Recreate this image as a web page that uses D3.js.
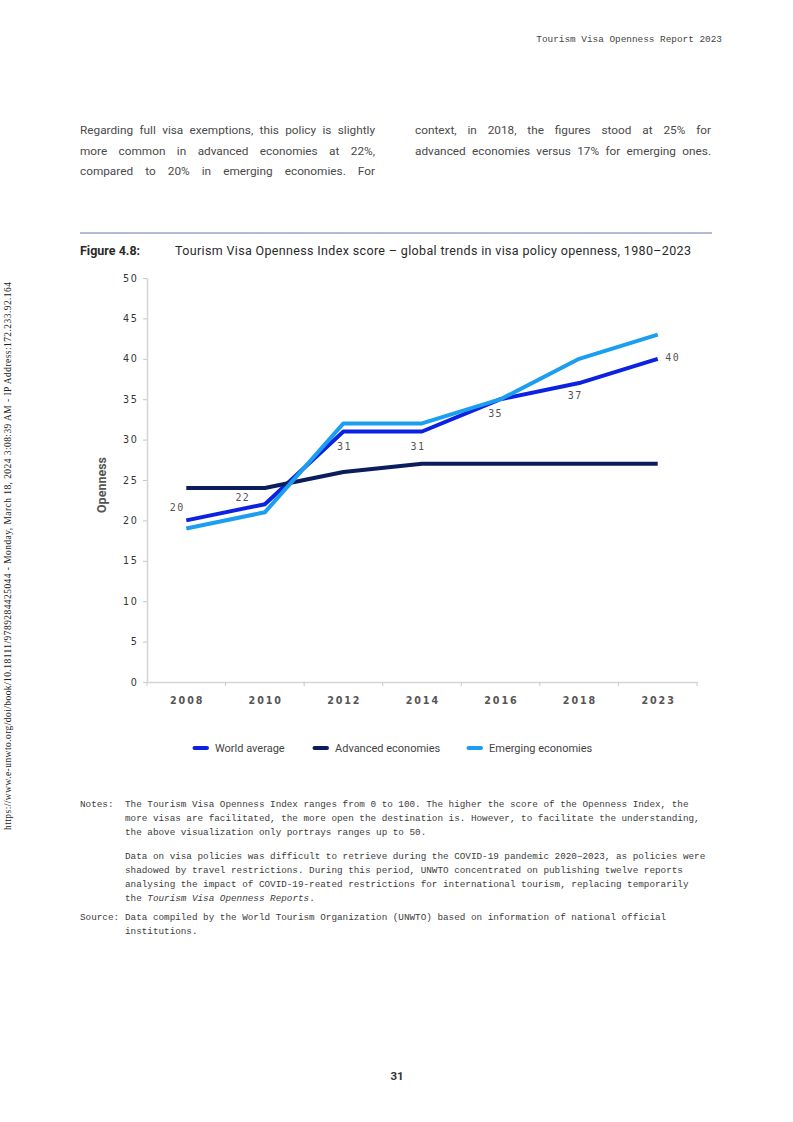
<!DOCTYPE html>
<html>
<head>
<meta charset="utf-8">
<script src="https://cdn.jsdelivr.net/npm/d3@7"></script>
<style>
  html, body { margin: 0; padding: 0; background: #fff; }
  #page { width: 793px; height: 1122px; }
</style>
</head>
<body>
<div id="page"></div>
<script>
// ---- data ----
const years = ['2008', '2010', '2012', '2014', '2016', '2018', '2023'];
const worldAverage = [20, 22, 31, 31, 35, 37, 40];
const advancedEconomies = [24, 24, 26, 27, 27, 27, 27];
const emergingEconomies = [19, 21, 32, 32, 35, 40, 43];
const yTicks = [0, 5, 10, 15, 20, 25, 30, 35, 40, 45, 50];
const seriesNames = ['World average', 'Advanced economies', 'Emerging economies'];

const colorRule = {
  'World average': '#0b22e2',
  'Advanced economies': '#0b1d5c',
  'Emerging economies': '#1c9ef0',
};

// page texts
const headerText = 'Tourism Visa Openness Report 2023';
const paraLeft = [
  'Regarding full visa exemptions, this policy is slightly',
  'more common in advanced economies at 22%,',
  'compared to 20% in emerging economies. For',
];
const paraRight = [
  'context, in 2018, the figures stood at 25% for',
  'advanced economies versus 17% for emerging ones.',
];
const figLabel = 'Figure 4.8:';
const figTitle = 'Tourism Visa Openness Index score \u2013 global trends in visa policy openness, 1980\u20132023';
const yLabel = 'Openness';
const notesLines = [
  ['Notes:', 'The Tourism Visa Openness Index ranges from 0 to 100. The higher the score of the Openness Index, the'],
  ['', 'more visas are facilitated, the more open the destination is. However, to facilitate the understanding,'],
  ['', 'the above visualization only portrays ranges up to 50.'],
];
const notesLines2 = [
  'Data on visa policies was difficult to retrieve during the COVID-19 pandemic 2020\u20132023, as policies were',
  'shadowed by travel restrictions. During this period, UNWTO concentrated on publishing twelve reports',
  'analysing the impact of COVID-19-reated restrictions for international tourism, replacing temporarily',
];
const sourceLines = [
  ['Source:', 'Data compiled by the World Tourism Organization (UNWTO) based on information of national official'],
  ['', 'institutions.'],
];
const sideText = 'https://www.e-unwto.org/doi/book/10.18111/9789284425044 - Monday, March 18, 2024 3:08:39 AM - IP Address:172.233.92.164';
const pageNumber = '31';

// ---- drawing ----
const W = 793, H = 1122;
const sans = 'Roboto, "Open Sans", sans-serif';
const mono = '"Liberation Mono", "DejaVu Sans Mono", monospace';

const svg = d3.select('#page').append('svg')
  .attr('width', W).attr('height', H)
  .attr('viewBox', `0 0 ${W} ${H}`);

// justify a text line by stretching the gaps between words
function justify(sel, width) {
  sel.each(function(d) {
    let natural = this.getComputedTextLength(),
        gaps = (d.match(/ /g) || []).length;
    if (gaps > 0) d3.select(this).attr('word-spacing', (width - natural) / gaps);
  });
}

// header
svg.append('text')
  .attr('x', 722).attr('y', 42)
  .attr('text-anchor', 'end')
  .attr('font-family', mono).attr('font-size', 9.4)
  .attr('fill', '#444')
  .text(headerText);

// paragraph, justified lines
svg.append('g').selectAll('text').data(paraLeft).join('text')
  .attr('x', 80).attr('y', (d, i) => 134 + i * 20.5)
  .attr('font-family', sans).attr('font-size', 11.8).attr('fill', '#4a4a4a')
  .text(d => d)
  .call(justify, 295);
svg.append('g').selectAll('text').data(paraRight).join('text')
  .attr('x', 415).attr('y', (d, i) => 134 + i * 20.5)
  .attr('font-family', sans).attr('font-size', 11.8).attr('fill', '#4a4a4a')
  .text(d => d)
  .call(justify, 296);

// figure title
svg.append('line')
  .attr('x1', 80).attr('x2', 712).attr('y1', 233).attr('y2', 233)
  .attr('stroke', '#6a76a8').attr('stroke-width', 1);
svg.append('text')
  .attr('x', 80).attr('y', 255)
  .attr('font-family', sans).attr('font-size', 12.5).attr('font-weight', 'bold')
  .attr('fill', '#2a2a2a')
  .text(figLabel);
svg.append('text')
  .attr('x', 175).attr('y', 255)
  .attr('textLength', 516).attr('lengthAdjust', 'spacing')
  .attr('font-family', sans).attr('font-size', 12.5)
  .attr('fill', '#2a2a2a')
  .text(figTitle);

// chart
const margin = {top: 278, right: 96, bottom: 440, left: 147};
const xScale = d3.scaleBand()
  .domain(years)
  .range([margin.left, W - margin.right]);
const yScale = d3.scaleLinear()
  .domain([0, 50])
  .range([H - margin.bottom, margin.top]);

const chartG = svg.append('g');

// y axis
chartG.append('g')
  .attr('transform', `translate(${margin.left}, 0)`)
  .call(d3.axisLeft(yScale).tickValues(yTicks).tickSize(4).tickPadding(6).tickSizeOuter(0))
  .call(g => g.select('.domain').attr('stroke', '#d6d6d6').attr('stroke-width', 1.6))
  .call(g => g.selectAll('.tick line').attr('stroke', '#c8c8c8'))
  .call(g => g.selectAll('.tick text')
              .attr('font-family', '"DejaVu Sans", sans-serif')
              .attr('font-size', 9.6)
              .attr('letter-spacing', 1.6)
              .attr('dx', '0.15em')
              .attr('fill', '#333'));

// x axis: labels at band centres, ticks at band edges
chartG.append('g')
  .attr('transform', `translate(0, ${yScale(0)})`)
  .call(d3.axisBottom(xScale).tickSize(0).tickPadding(15).tickSizeOuter(0))
  .call(g => g.select('.domain').attr('stroke', '#d6d6d6').attr('stroke-width', 1.6))
  .call(g => g.selectAll('.tick text')
              .attr('font-family', '"DejaVu Sans", sans-serif')
              .attr('font-size', 9.6)
              .attr('font-weight', 'bold')
              .attr('letter-spacing', 1.9)
              .attr('dx', '0.09em')
              .attr('fill', '#555'));
chartG.append('g').selectAll('line')
  .data(years.map(d => xScale(d)).concat([xScale.range()[1]]))
  .join('line')
  .attr('x1', d => d).attr('x2', d => d)
  .attr('y1', yScale(0)).attr('y2', yScale(0) + 4)
  .attr('stroke', '#c8c8c8');

// y label
chartG.append('text')
  .attr('transform', `translate(106, ${(yScale(0) + yScale(50)) / 2 + 5}) rotate(-90)`)
  .attr('text-anchor', 'middle')
  .attr('font-family', sans).attr('font-size', 12.5).attr('font-weight', 'bold')
  .attr('fill', '#555')
  .text(yLabel);

// lines
const data = [
  {name: 'World average', value: worldAverage},
  {name: 'Advanced economies', value: advancedEconomies},
  {name: 'Emerging economies', value: emergingEconomies},
];
const line = d3.line()
  .x((d, i) => xScale(years[i]) + xScale.bandwidth() / 2)
  .y(d => yScale(d));

chartG.append('g')
  .attr('fill', 'none')
  .attr('stroke-width', 4)
  .attr('stroke-linejoin', 'round')
  .selectAll('path')
  .data(data)
  .join('path')
  .attr('stroke', d => colorRule[d.name])
  .attr('d', d => line(d.value));

// data labels for world average (offset from the point)
const labelOffset = [[-9, -9], [-22, -3], [1, 18.5], [-4, 18.5], [-5, 18], [-4, 16], [15, 2]];
chartG.append('g').selectAll('text')
  .data(worldAverage)
  .join('text')
  .attr('x', (d, i) => xScale(years[i]) + xScale.bandwidth() / 2 + labelOffset[i][0])
  .attr('y', (d, i) => yScale(d) + labelOffset[i][1])
  .attr('text-anchor', 'middle')
  .attr('font-family', '"DejaVu Sans Mono", monospace')
  .attr('font-size', 10)
  .attr('letter-spacing', 1.4)
  .attr('fill', '#555')
  .text(d => d);

// legend
const legendX = [193, 313, 467];
const legend = chartG.append('g').selectAll('g')
  .data(seriesNames)
  .join('g')
  .attr('transform', (d, i) => `translate(${legendX[i]}, 748)`);
legend.append('line')
  .attr('x1', 1.5).attr('x2', 14)
  .attr('stroke', d => colorRule[d])
  .attr('stroke-width', 4)
  .attr('stroke-linecap', 'round');
legend.append('text')
  .attr('x', 22).attr('y', 4)
  .attr('font-family', sans).attr('font-size', 11)
  .attr('fill', '#444')
  .text(d => d);

// notes
const notesG = svg.append('g')
  .attr('font-family', mono).attr('font-size', 9.3).attr('fill', '#3c3c3c');
notesLines.forEach((l, i) => {
  notesG.append('text').attr('x', 80).attr('y', 807 + i * 14).text(l[0]);
  notesG.append('text').attr('x', 125).attr('y', 807 + i * 14).text(l[1]);
});
notesLines2.forEach((l, i) => {
  notesG.append('text').attr('x', 125).attr('y', 859 + i * 14).text(l);
});
const lastNote = notesG.append('text').attr('x', 125).attr('y', 859 + 3 * 14);
lastNote.append('tspan').text('the ');
lastNote.append('tspan').attr('font-style', 'italic').text('Tourism Visa Openness Reports');
lastNote.append('tspan').text('.');
sourceLines.forEach((l, i) => {
  notesG.append('text').attr('x', 80).attr('y', 920 + i * 14).text(l[0]);
  notesG.append('text').attr('x', 125).attr('y', 920 + i * 14).text(l[1]);
});

// page number
svg.append('text')
  .attr('x', 397).attr('y', 1080)
  .attr('text-anchor', 'middle')
  .attr('font-family', sans).attr('font-size', 11.5).attr('font-weight', 'bold')
  .attr('fill', '#333')
  .text(pageNumber);

// side stamp
svg.append('text')
  .attr('transform', 'translate(11, 556) rotate(-90)')
  .attr('text-anchor', 'middle')
  .attr('textLength', 548).attr('lengthAdjust', 'spacing')
  .attr('font-family', '"Liberation Serif", "DejaVu Serif", serif')
  .attr('font-size', 9.5)
  .attr('fill', '#222')
  .text(sideText);
</script>
</body>
</html>
